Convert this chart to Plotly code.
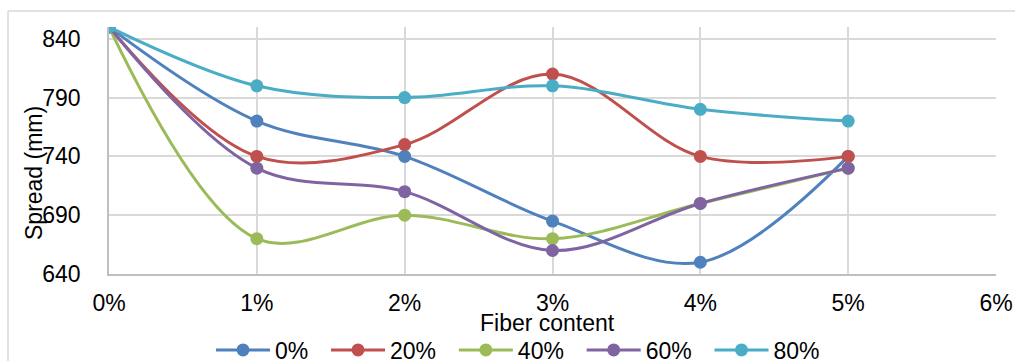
import plotly.graph_objects as go

# Fiber content (%) on the x axis and the tick labels shown for it
fiber = [0, 1, 2, 3, 4, 5]
x_ticks = [0, 1, 2, 3, 4, 5, 6]
x_tick_text = ["0%", "1%", "2%", "3%", "4%", "5%", "6%"]

# Spread (mm) for each replacement level
spread_0 = [850, 770, 740, 685, 650, 740]
spread_20 = [850, 740, 750, 810, 740, 740]
spread_40 = [850, 670, 690, 670, 700, 730]
spread_60 = [850, 730, 710, 660, 700, 730]
spread_80 = [850, 800, 790, 800, 780, 770]

y_ticks = [640, 690, 740, 790, 840]

series = [
    ("0%", spread_0, "#4F81BD"),
    ("20%", spread_20, "#C0504D"),
    ("40%", spread_40, "#9BBB59"),
    ("60%", spread_60, "#8064A2"),
    ("80%", spread_80, "#4BACC6"),
]

FONT = "Arial, 'Liberation Sans', sans-serif"
FS = 23
PAD = "\u00a0\u00a0"  # extra room after each legend label

fig = go.Figure()
for name, values, color in series:
    fig.add_trace(go.Scatter(
        x=fiber, y=values, name=name + PAD, mode="lines+markers",
        line=dict(color=color, width=3, shape="spline", smoothing=1),
        marker=dict(color=color, size=13),
    ))

W, H = 1015, 361
L, R, T, B = 109, 19, 27, 87
pw, ph = W - L - R, H - T - B

def px_x(p):
    return (p - L) / pw

def px_y(p):
    return (H - B - p) / ph

fig.update_layout(
    width=W, height=H,
    margin=dict(l=L, r=R, t=T, b=B, autoexpand=False),
    paper_bgcolor="white", plot_bgcolor="white",
    font=dict(family=FONT, size=FS, color="#000000"),
    showlegend=True,
    legend=dict(
        orientation="h", x=px_x(211), xanchor="left", y=px_y(350), yanchor="middle",
        font=dict(size=FS), itemwidth=54,
        bgcolor="rgba(0,0,0,0)",
    ),
    xaxis=dict(
        range=[0, 6], tickvals=x_ticks, ticktext=x_tick_text,
        showgrid=True, gridcolor="#D9D9D9", gridwidth=1.5,
        showline=True, linecolor="#BFBFBF", linewidth=1.5,
        ticks="", zeroline=False, ticklabelstandoff=8,
    ),
    yaxis=dict(
        range=[640, 850], tickvals=y_ticks,
        showgrid=True, gridcolor="#D9D9D9", gridwidth=1.5,
        showline=True, linecolor="#BFBFBF", linewidth=1.5,
        ticks="", zeroline=False, ticklabelstandoff=22,
    ),
    annotations=[
        dict(text="Spread (mm)", textangle=-90, xref="paper", yref="paper",
             x=px_x(34), y=px_y(173), xanchor="center", yanchor="middle",
             showarrow=False, font=dict(size=FS)),
        dict(text="Fiber content", xref="paper", yref="paper",
             x=px_x(547), y=px_y(323), xanchor="center", yanchor="middle",
             showarrow=False, font=dict(size=FS)),
    ],
    shapes=[
        dict(type="line", xref="paper", yref="paper", x0=px_x(8), x1=px_x(W + 5),
             y0=px_y(11), y1=px_y(11), line=dict(color="#D9D9D9", width=1.5)),
        dict(type="line", xref="paper", yref="paper", x0=px_x(8), x1=px_x(8),
             y0=px_y(11), y1=px_y(H + 5), line=dict(color="#D9D9D9", width=1.5)),
    ],
)

fig.write_html("out.html")
